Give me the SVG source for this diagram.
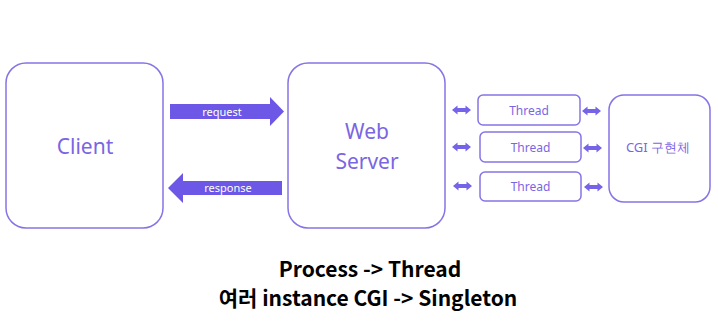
<svg xmlns="http://www.w3.org/2000/svg" width="718" height="333" viewBox="0 0 718 333">
<defs>
<style>
.box{fill:#fff;stroke:#8574e6;stroke-width:1.5}
.lbl{font-family:"Noto Sans","Open Sans",sans-serif;fill:#7a66e3;text-anchor:middle}
.arr{fill:#6c57e6}
.dbl{fill:#7563e8}
.al{font-family:"Noto Sans","Open Sans",sans-serif;fill:#fff;font-size:11px;text-anchor:middle}
.bt{font-family:"Noto Sans CJK KR","Noto Sans",sans-serif;font-weight:bold;font-size:21px;fill:#000;text-anchor:middle}
</style>
<path id="dbl" d="M0,0 l5.5,-4.5 v2.5 h8 v-2.5 l5.5,4.5 l-5.5,4.5 v-2.5 h-8 v2.5 z" class="dbl"/>
</defs>
<rect width="718" height="333" fill="#fff"/>
<g id="client"><rect class="box" x="6" y="63" width="157" height="165" rx="20"/><text class="lbl" x="85" y="154" font-size="21">Client</text></g>
<g id="webserver"><rect class="box" x="288" y="63" width="157" height="165" rx="20"/><text class="lbl" x="367" y="139" font-size="21">Web</text><text class="lbl" x="367" y="169" font-size="21">Server</text></g>
<g id="thread1"><rect class="box" x="478" y="95" width="102" height="30" rx="5"/><text class="lbl" x="529" y="114.5" font-size="12">Thread</text></g>
<g id="thread2"><rect class="box" x="480" y="132" width="101" height="30" rx="5"/><text class="lbl" x="530.5" y="151.5" font-size="12">Thread</text></g>
<g id="thread3"><rect class="box" x="480" y="172" width="101" height="29" rx="5"/><text class="lbl" x="530.5" y="190.5" font-size="12">Thread</text></g>
<g id="cgi"><rect class="box" x="609" y="95" width="101" height="107" rx="15"/><text class="lbl" x="658" y="152" font-size="13">CGI 구현체</text></g>
<g id="connectors">
<path class="arr" d="M170,104 H270 V97 L284,111.5 L270,126 V119 H170 Z"/>
<text class="al" x="222" y="115.5">request</text>
<path class="arr" d="M282,181 H183 V173 L168,188 L183,203 V195 H282 Z"/>
<text class="al" x="228" y="192">response</text>
<use href="#dbl" x="452" y="110"/>
<use href="#dbl" x="452" y="147"/>
<use href="#dbl" x="453" y="186"/>
<use href="#dbl" x="582" y="111"/>
<use href="#dbl" x="583" y="148"/>
<use href="#dbl" x="584" y="187"/>
</g>
<g id="caption">
<text class="bt" x="370" y="277">Process -&gt; Thread</text>
<text class="bt" x="368" y="306">여러 instance CGI -&gt; Singleton</text>
</g>
</svg>
